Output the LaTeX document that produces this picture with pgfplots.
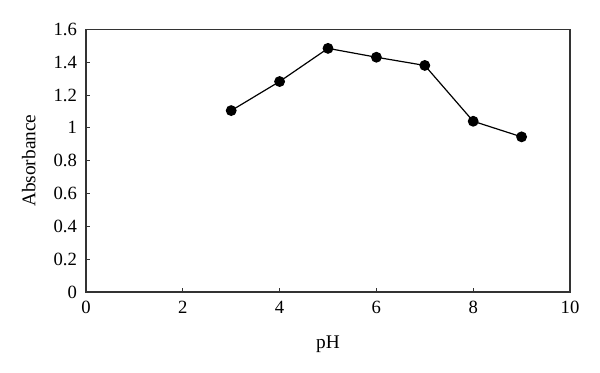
\documentclass[border=0pt]{standalone}
\usepackage{fontspec}
\setmainfont{Liberation Serif}
\usepackage{pgfplots}
\pgfplotsset{compat=1.18}
\begin{document}
\fontsize{14}{16}\selectfont
\begin{tikzpicture}
\useasboundingbox (-64.5pt,-60.75pt) rectangle (385.5pt,219pt);
\begin{axis}[
  at={(0,0)}, anchor=south west,
  scale only axis, width=363pt, height=197pt,
  xmin=0, xmax=10, ymin=0, ymax=1.6,
  xtick={0,2,...,10}, ytick={0,0.2,...,1.6},
  xtick pos=bottom, ytick pos=left,
  tick align=inside, major tick length=3pt,
  axis line style={black!80, line width=0.9pt},
  every tick/.style={black!80, line width=0.7pt},
  /pgf/number format/assume math mode=true,
  ticklabel style={font=\fontsize{14}{16}\selectfont},
  label style={font=\fontsize{14.5}{16}\selectfont},
  xlabel={pH}, ylabel={Absorbance},
  xlabel style={at={(axis description cs:0.5,0)}, anchor=center, yshift=-39pt},
  ylabel style={at={(axis description cs:0,0.5)}, anchor=center, yshift=43pt},
  yticklabel style={xshift=-2pt},
  xticklabel style={yshift=-2pt},
  clip=false,
]
\addplot[black, line width=0.9pt, mark=*, mark size=3.6pt] coordinates {
(3,1.105) (4,1.282) (5,1.484) (6,1.430) (7,1.380) (8,1.040) (9,0.945)
};
\end{axis}
\end{tikzpicture}
\end{document}
